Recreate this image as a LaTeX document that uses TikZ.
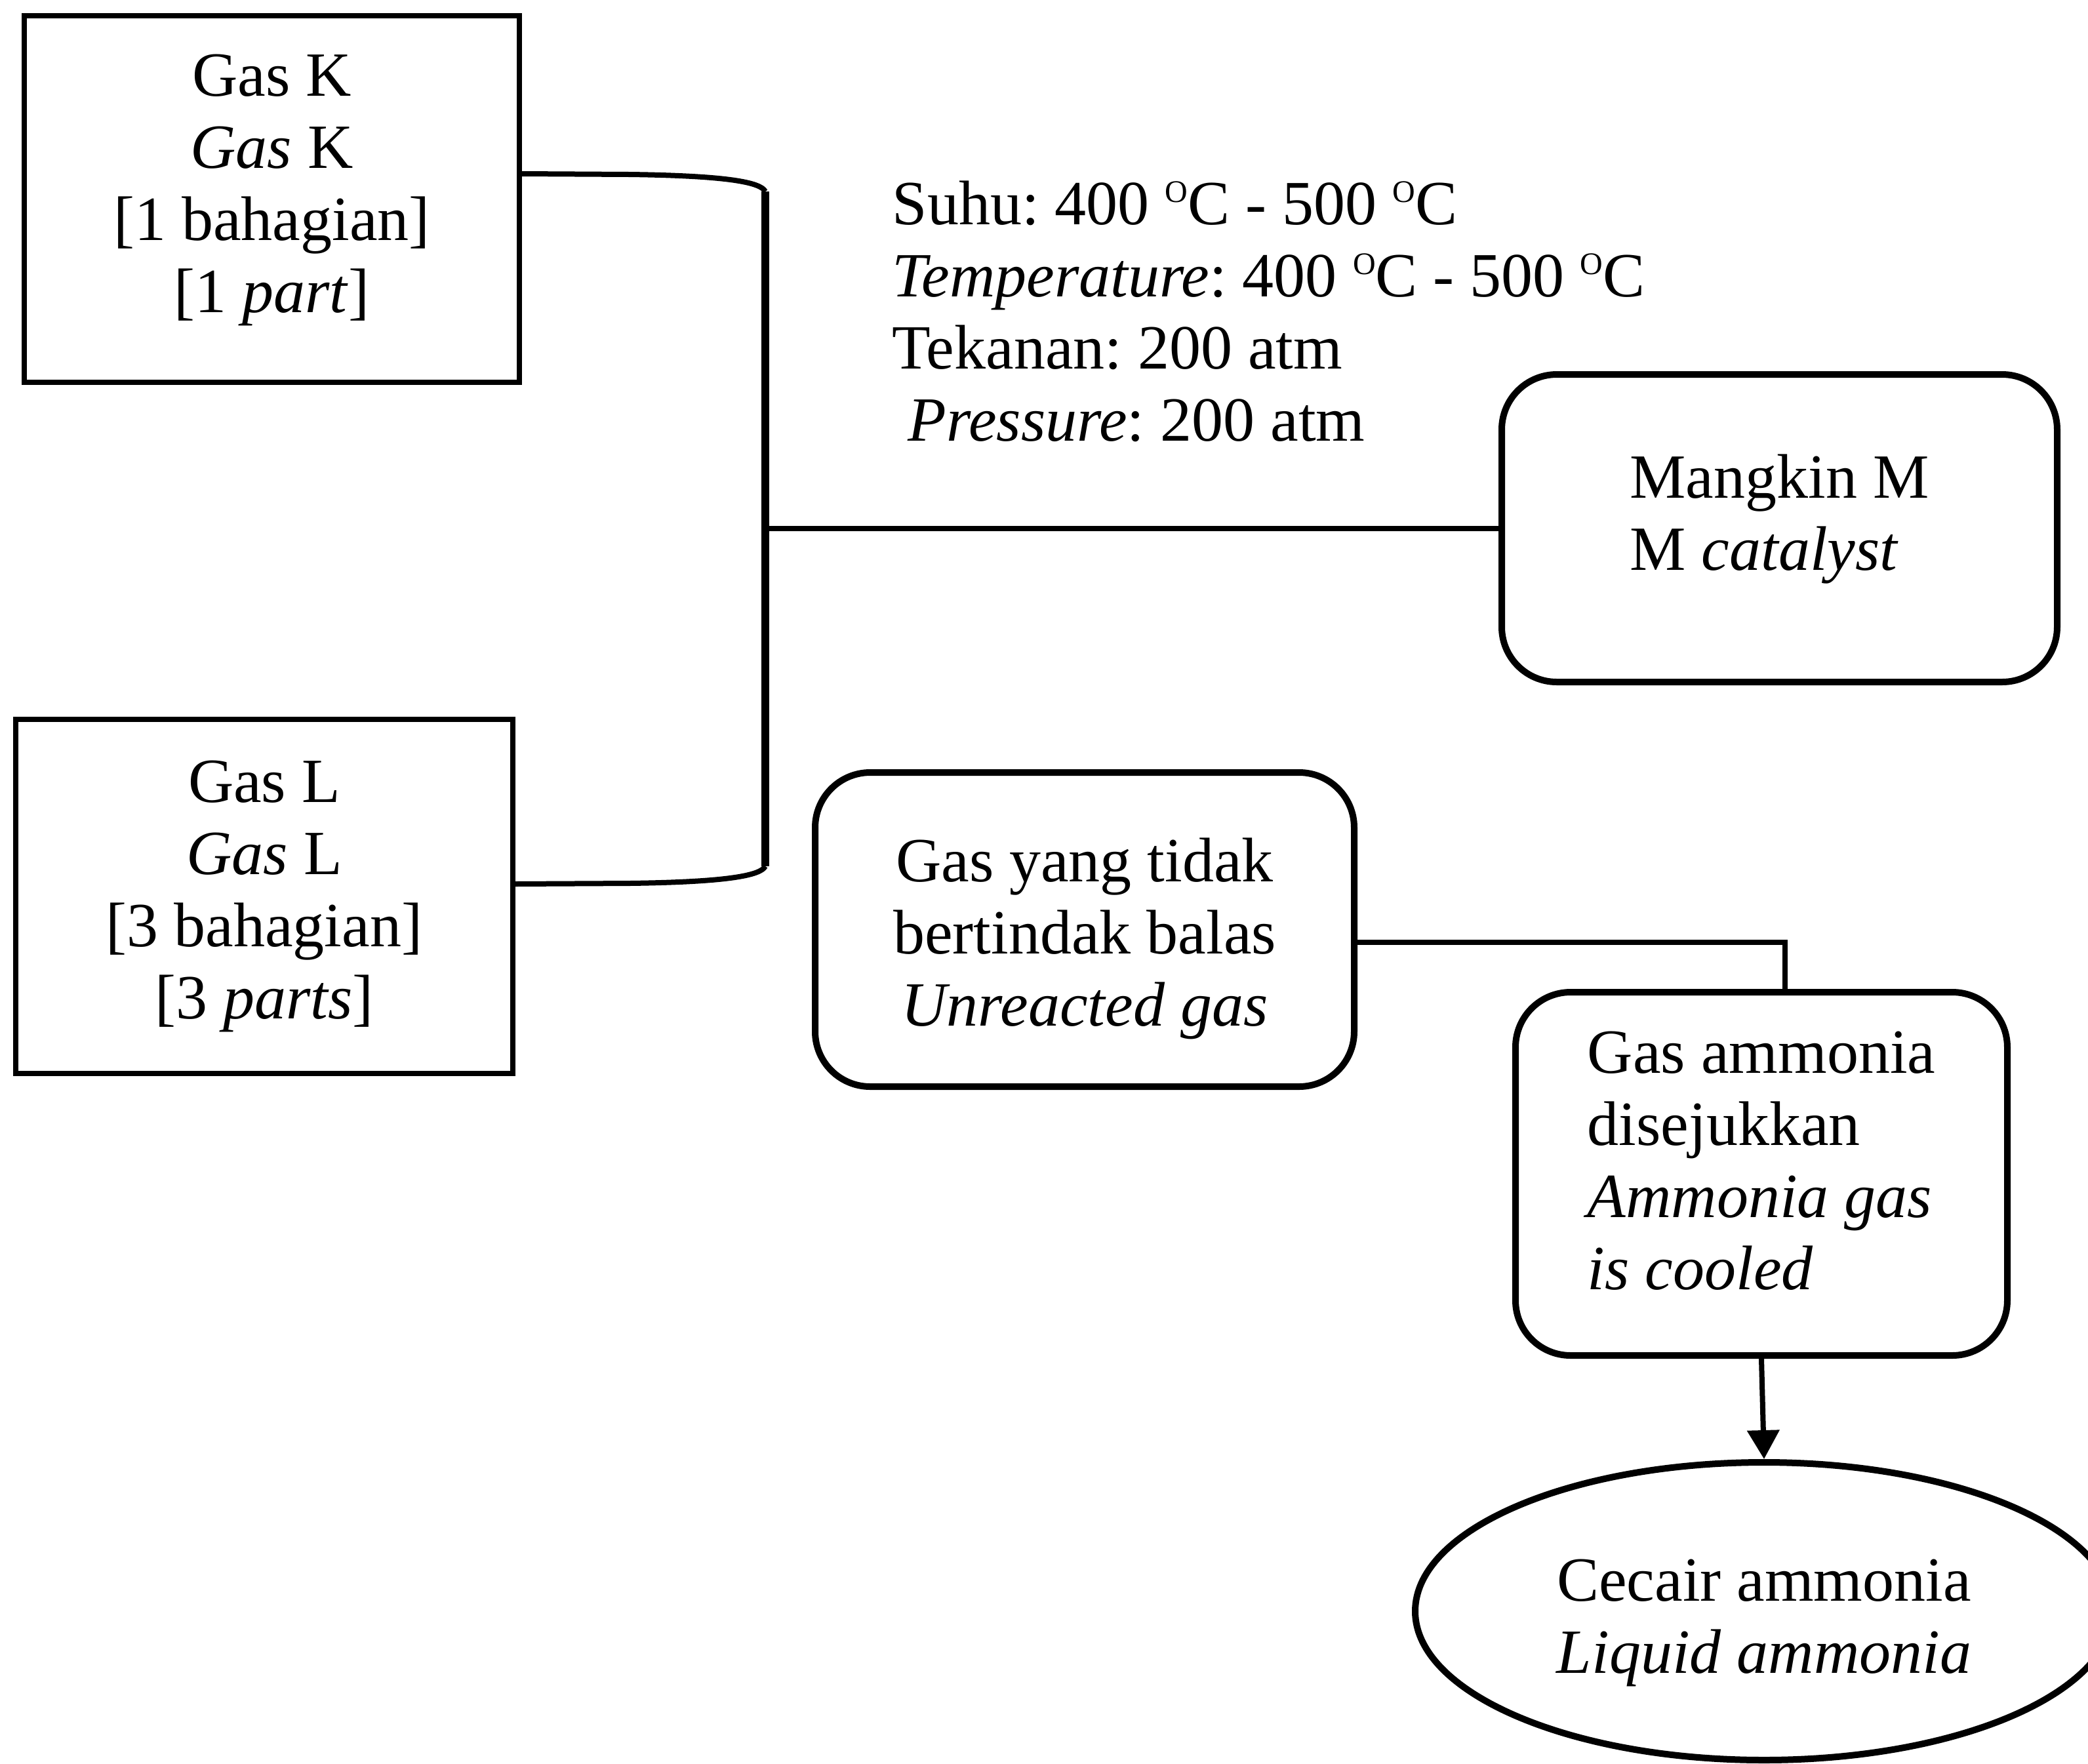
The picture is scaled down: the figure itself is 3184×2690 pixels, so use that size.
\documentclass[tikz,border=0pt]{standalone}
\usepackage{fontspec}
\setmainfont{Liberation Serif}
\usetikzlibrary{shapes.geometric,arrows.meta,calc}
\frenchspacing
\newcommand{\degO}{\raisebox{8.5pt}{\fontsize{12pt}{12pt}\selectfont O}}
\newcommand{\dn}[1]{\rule[-#1]{0pt}{1pt}}
\newcommand{\up}[1]{\rule{0pt}{#1}}
\begin{document}
\begin{tikzpicture}[x=0.25pt,y=-0.25pt,
  every node/.style={font=\fontsize{24pt}{27.5pt}\selectfont},
  sqbox/.style={draw,line width=2pt,inner sep=0pt,align=center},
  rbox/.style={draw,line width=2.5pt,rounded corners=21pt,inner sep=0pt,align=left},
  link/.style={line width=2pt},
  thick link/.style={line width=2.8pt},
]
\useasboundingbox (0,0) rectangle (3184,2690);

\node[sqbox,minimum width=755*0.25pt,minimum height=559*0.25pt] (K) at (414.5,303.5)
  {Gas K\\\textit{Gas} K\\{[}1 bahagian{]}\\{[}1 \textit{part}{]}\dn{12pt}};
\node[sqbox,minimum width=758*0.25pt,minimum height=540*0.25pt] (L) at (403,1367)
  {Gas L\\\textit{Gas} L\\{[}3 bahagian{]}\\{[}3 \textit{parts}{]}};

\node[rbox,minimum width=847*0.25pt,minimum height=469*0.25pt] (M) at (2713.5,805.5)
  {Mangkin M\\M \textit{catalyst}\dn{12pt}};
\node[rbox,align=center,minimum width=822*0.25pt,minimum height=479*0.25pt] (U) at (1654,1417.5)
  {\up{23.5pt}Gas yang tidak\\bertindak balas\\\textit{Unreacted gas}};
\node[rbox,minimum width=750*0.25pt,minimum height=554*0.25pt] (GA) at (2686,1790)
  {Gas ammonia\\disejukkan\\\textit{Ammonia gas}\\\textit{is cooled}\dn{10pt}};
\node[draw,ellipse,line width=2.5pt,inner sep=0pt,align=center,
      minimum width=1064*0.25pt,minimum height=454*0.25pt] (LQ) at (2690,2457)
  {\up{25pt}Cecair ammonia\\\textit{Liquid ammonia}};

\node[anchor=north west,align=left,inner sep=0pt] (cond) at (1360,275)
  {Suhu: 400 \degO C - 500 \degO C\\
   \textit{Temperature}: 400 \degO C - 500 \degO C\\
   Tekanan: 200 atm\\
   \hspace*{0.25em}\textit{Pressure}: 200 atm};

% bracket joining K and L
\coordinate (bt) at (1167,292);
\coordinate (bb) at (1167,1321);
\draw[link] ($(K.east)+(0,-38.5)$) -- (960,266)
  .. controls (1110,268) and (1160,278) .. (bt);
\draw[link] ($(L.east)+(0,-19)$) -- (960,1347)
  .. controls (1110,1345) and (1160,1335) .. (bb);
\draw[thick link] (bt) -- (bb);
\draw[link] (bt |- M.west) -- (M.west);

% unreacted gas to ammonia box
\coordinate (uj) at (2722,1437);
\draw[link] (U.east |- uj) -| (GA.north -| uj);

% arrow to liquid ammonia
\draw[line width=2pt,-{Triangle[length=11pt,width=12pt]}] (GA.south) -- (LQ.north);
\end{tikzpicture}
\end{document}
